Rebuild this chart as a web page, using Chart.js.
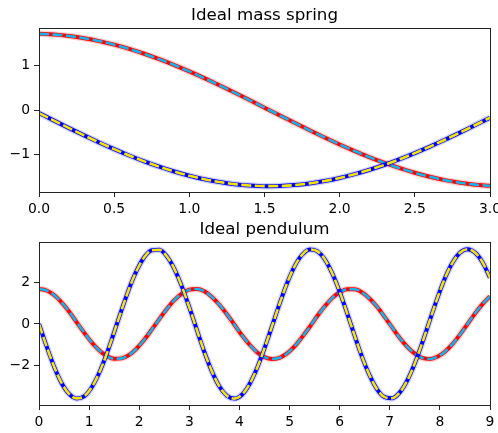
<!DOCTYPE html>
<html>
<head>
<meta charset="utf-8">
<script src="https://cdn.jsdelivr.net/npm/chart.js@4.4.1/dist/chart.umd.min.js"></script>
<style>
  html, body { margin: 0; padding: 0; background: #fff; }
  #wrap { position: relative; width: 498px; height: 433px; overflow: hidden; }
  canvas { position: absolute; left: 0; }
</style>
</head>
<body>
<div id="wrap">
  <canvas id="springChart" width="498" height="225" style="top:0"></canvas>
  <canvas id="pendulumChart" width="498" height="218" style="top:215px"></canvas>
</div>
<script>
// mass spring (top panel)
const springTime = [0, 0.1, 0.2, 0.3, 0.4, 0.5, 0.6, 0.7, 0.8, 0.9, 1.0, 1.1, 1.2, 1.3, 1.4, 1.5,
  1.6, 1.7, 1.8, 1.9, 2.0, 2.1, 2.2, 2.3, 2.4, 2.5, 2.6, 2.7, 2.8, 2.9, 3.0];
const springPosition = [1.699, 1.683, 1.651, 1.603, 1.538, 1.458, 1.364, 1.255, 1.135, 1.003, 0.861,
  0.710, 0.552, 0.389, 0.222, 0.052, -0.117, -0.286, -0.453, -0.614, -0.769, -0.916, -1.055,
  -1.182, -1.298, -1.401, -1.491, -1.565, -1.623, -1.666, -1.691];
const springVelocity = [-0.068, -0.237, -0.404, -0.567, -0.724, -0.874, -1.015, -1.146, -1.266,
  -1.373, -1.466, -1.545, -1.608, -1.655, -1.685, -1.699, -1.696, -1.676, -1.638, -1.585, -1.516,
  -1.432, -1.333, -1.222, -1.098, -0.962, -0.817, -0.665, -0.505, -0.340, -0.172];
const springXTicks = [0, 0.5, 1, 1.5, 2, 2.5, 3];
const springYTicks = [-1, 0, 1];

// pendulum (bottom panel)
const pendulumTime = [0, 0.15, 0.3, 0.45, 0.6, 0.75, 0.9, 1.05, 1.2, 1.35, 1.5, 1.65, 1.8, 1.95,
  2.1, 2.25, 2.4, 2.55, 2.7, 2.85, 3.0, 3.15, 3.3, 3.45, 3.6, 3.75, 3.9, 4.05, 4.2, 4.35, 4.5,
  4.65, 4.8, 4.95, 5.1, 5.25, 5.4, 5.55, 5.7, 5.85, 6.0, 6.15, 6.3, 6.45, 6.6, 6.75, 6.9, 7.05,
  7.2, 7.35, 7.5, 7.65, 7.8, 7.95, 8.1, 8.25, 8.4, 8.55, 8.7, 8.85, 9.0];
const pendulumAngle = [1.70, 1.62, 1.40, 1.04, 0.60, 0.09, -0.42, -0.89, -1.28, -1.56, -1.69,
  -1.67, -1.50, -1.19, -0.77, -0.28, 0.23, 0.72, 1.15, 1.47, 1.66, 1.69, 1.58, 1.31, 0.93, 0.47,
  -0.04, -0.55, -1.00, -1.37, -1.61, -1.70, -1.64, -1.43, -1.09, -0.64, -0.15, 0.37, 0.84, 1.25,
  1.53, 1.68, 1.68, 1.52, 1.22, 0.82, 0.33, -0.18, -0.68, -1.11, -1.44, -1.65, -1.70, -1.59,
  -1.35, -0.98, -0.52, -0.01, 0.50, 0.96, 1.34];
const pendulumVelocity = [0, -1.08, -2.06, -2.86, -3.39, -3.61, -3.51, -3.08, -2.38, -1.46, -0.40,
  0.69, 1.72, 2.59, 3.23, 3.57, 3.59, 3.28, 2.67, 1.82, 0.80, -0.29, -1.36, -2.30, -3.03, -3.48,
  -3.62, -3.43, -2.92, -2.15, -1.18, -0.11, 0.97, 1.97, 2.79, 3.35, 3.61, 3.53, 3.14, 2.46, 1.56,
  0.51, -0.58, -1.62, -2.51, -3.18, -3.55, -3.60, -3.32, -2.74, -1.91, -0.90, 0.18, 1.25, 2.21,
  2.96, 3.45, 3.62, 3.46, 2.99, 2.24];
const pendulumXTicks = [0, 1, 2, 3, 4, 5, 6, 7, 8, 9];
const pendulumYTicks = [-2, 0, 2];

Chart.defaults.font.family = "'DejaVu Sans', sans-serif";
Chart.defaults.font.size = 13.9;
Chart.defaults.color = "#000";

// axes box + title centred over the plot area, like matplotlib
const axesFrame = {
  id: "axesFrame",
  afterDraw(chart, args, opts) {
    const { ctx, chartArea: a } = chart;
    ctx.save();
    ctx.strokeStyle = "#222";
    ctx.lineWidth = 1;
    ctx.strokeRect(Math.round(a.left) + 0.5, Math.round(a.top) + 0.5,
      Math.round(a.right - a.left), Math.round(a.bottom - a.top));
    ctx.fillStyle = "#000";
    ctx.font = "16.7px 'DejaVu Sans', sans-serif";
    ctx.textAlign = "center";
    ctx.textBaseline = "alphabetic";
    ctx.fillText(opts.text, (a.left + a.right) / 2, a.top - 8);
    ctx.restore();
  }
};

const minus = v => String(v).replace("-", "\u2212");

function points(time, values) {
  return time.map((t, i) => ({ x: t, y: values[i] }));
}

function curve(data, color, width, order, dash) {
  return {
    data: data,
    borderColor: color,
    borderWidth: width,
    borderDash: dash || [],
    pointRadius: 0,
    fill: false,
    cubicInterpolationMode: "monotone",
    order: order
  };
}

function makeChart(id, title, time, first, second, xTicks, yTicks, yMin, yMax, xFmt, padTop, xAxisHeight) {
  const a = points(time, first);
  const b = points(time, second);
  return new Chart(document.getElementById(id), {
    type: "line",
    data: {
      datasets: [
        curve(b, "#f2e600", 2.6, 1, [10, 3.5]),
        curve(b, "#0000ff", 4, 2),
        curve(b, "rgba(0,0,255,0.18)", 6.5, 3),
        curve(a, "#17b2e6", 2.6, 4, [10, 3.5]),
        curve(a, "#ff0000", 4, 5),
        curve(a, "rgba(255,0,0,0.18)", 6.5, 6)
      ]
    },
    options: {
      responsive: false,
      animation: false,
      devicePixelRatio: 1,
      layout: { padding: { top: padTop, right: 8, left: 0, bottom: 0 } },
      plugins: {
        legend: { display: false },
        tooltip: { enabled: false },
        axesFrame: { text: title }
      },
      scales: {
        x: {
          type: "linear",
          min: xTicks[0],
          max: xTicks[xTicks.length - 1],
          afterBuildTicks: s => { s.ticks = xTicks.map(v => ({ value: v })); },
          afterFit: s => { s.height = xAxisHeight; s.paddingLeft = 0; s.paddingRight = 0; },
          ticks: { padding: 4, maxRotation: 0, autoSkip: false, callback: v => xFmt(v) },
          grid: { drawOnChartArea: false, drawTicks: true, tickLength: 5, color: "#222" },
          border: { display: false }
        },
        y: {
          type: "linear",
          min: yMin,
          max: yMax,
          afterBuildTicks: s => { s.ticks = yTicks.map(v => ({ value: v })); },
          afterFit: s => { s.width = 39; s.paddingTop = 0; s.paddingBottom = 0; },
          ticks: { padding: 4, autoSkip: false, callback: v => minus(v) },
          grid: { drawOnChartArea: false, drawTicks: true, tickLength: 5, color: "#222" },
          border: { display: false }
        }
      }
    },
    plugins: [axesFrame]
  });
}

makeChart("springChart", "Ideal mass spring", springTime, springPosition, springVelocity,
  springXTicks, springYTicks, -1.83, 1.83, v => v.toFixed(1), 28, 33);
makeChart("pendulumChart", "Ideal pendulum", pendulumTime, pendulumAngle, pendulumVelocity,
  pendulumXTicks, pendulumYTicks, -3.93, 3.97, v => String(v), 27, 28);
</script>
</body>
</html>
